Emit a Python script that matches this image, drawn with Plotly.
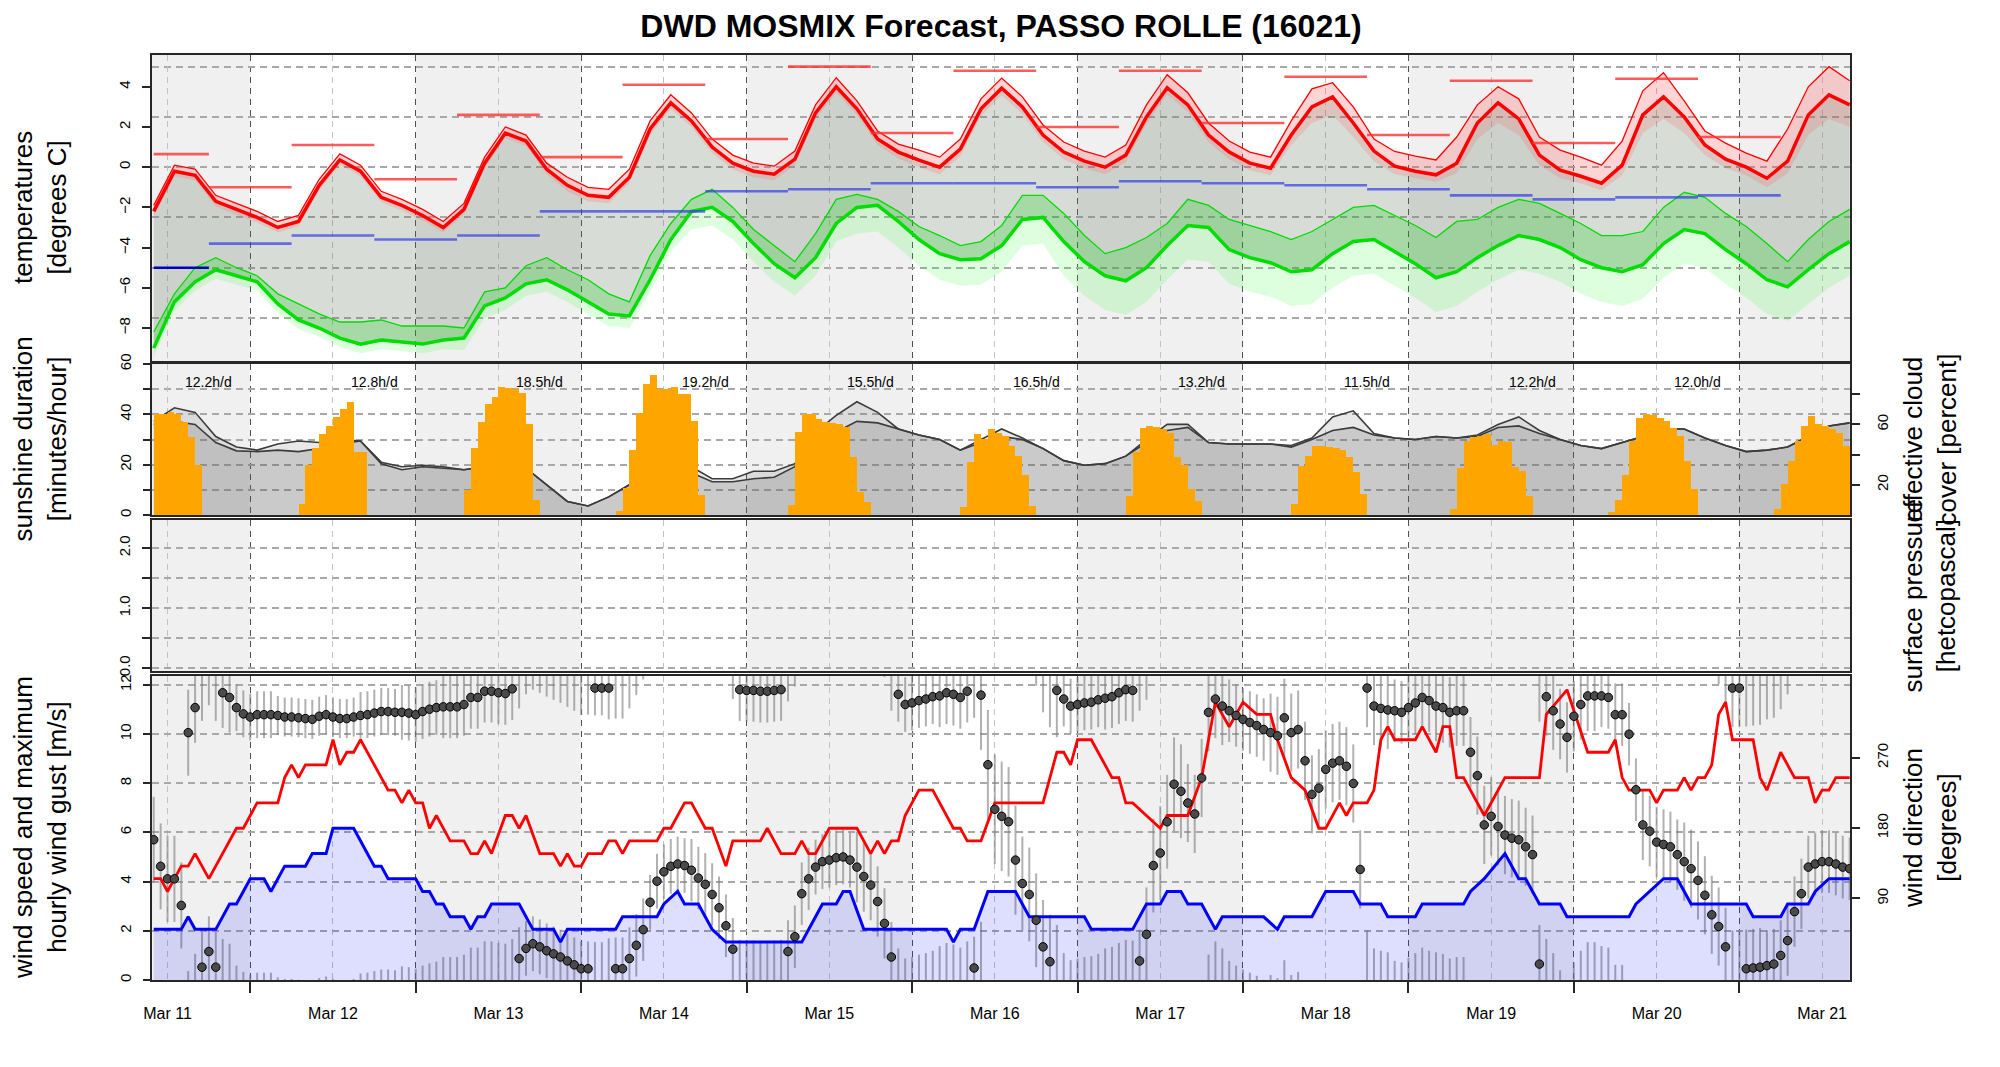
import plotly.graph_objects as go
from datetime import datetime, timedelta

# ------------------------------------------------------------------ data
START = datetime(2024, 3, 11, 10, 0)          # hour 0 of the forecast
X_FIRST_H, X_LAST_H = -0.25, 246.05           # visible time window (hours from START)

TITLE = "DWD MOSMIX Forecast, PASSO ROLLE (16021)"
day_labels = ["Mar 11", "Mar 12", "Mar 13", "Mar 14", "Mar 15", "Mar 16",
              "Mar 17", "Mar 18", "Mar 19", "Mar 20", "Mar 21"]
shaded_day_index = [0, 2, 4, 6, 8, 10]
sun_day_text = ["12.2h/d", "12.8h/d", "18.5h/d", "19.2h/d", "15.5h/d",
                "16.5h/d", "13.2h/d", "11.5h/d", "12.2h/d", "12.0h/d"]

# temperatures, one value every 3 hours
temp_step_h = 3
temp_2m = [-2.2, -0.2, -0.4, -1.7, -2.1, -2.5, -3.0, -2.7, -0.9, 0.36,
           -0.2, -1.5, -1.9, -2.4, -3.0, -2.1, 0.2, 1.7, 1.3, -0.1,
           -0.9, -1.4, -1.5, -0.5, 1.9, 3.2, 2.3, 1.0, 0.2, -0.2,
           -0.35, 0.4, 2.7, 4.0, 2.9, 1.4, 0.75, 0.35, 0.0, 0.9,
           2.9, 3.93, 3.0, 1.6, 0.75, 0.3, 0.0, 0.6, 2.5, 3.95,
           3.1, 1.6, 0.75, 0.2, -0.05, 1.6, 3.0, 3.5, 2.2, 0.8,
           0.05, -0.2, -0.38, 0.2, 2.2, 3.2, 2.4, 0.6, -0.15, -0.45,
           -0.8, 0.1, 2.6, 3.5, 2.5, 1.1, 0.4, 0.0, -0.55, 0.3,
           2.6, 3.6, 3.1]
temp_2m_upper = [-1.9, 0.1, -0.1, -1.4, -1.8, -2.2, -2.7, -2.4, -0.6, 0.66,
                 0.1, -1.2, -1.6, -2.1, -2.7, -1.8, 0.5, 2.0, 1.6, 0.2,
                 -0.5, -1.0, -1.1, -0.1, 2.3, 3.6, 2.7, 1.4, 0.6, 0.2,
                 0.05, 0.8, 3.1, 4.45, 3.3, 1.8, 1.15, 0.85, 0.5, 1.4,
                 3.4, 4.43, 3.5, 2.1, 1.25, 0.8, 0.5, 1.1, 3.1, 4.6,
                 3.7, 2.2, 1.3, 0.75, 0.5, 2.3, 3.9, 4.2, 3.0, 1.4,
                 0.78, 0.55, 0.36, 1.5, 3.1, 4.0, 3.4, 1.5, 0.85, 0.5,
                 0.1, 1.3, 3.8, 4.7, 3.3, 1.8, 1.2, 0.7, 0.3, 1.9,
                 4.0, 5.0, 4.3]
temp_2m_lower = [-2.45, -0.45, -0.65, -1.95, -2.35, -2.75, -3.25, -2.95, -1.15, 0.11,
                 -0.45, -1.75, -2.15, -2.65, -3.25, -2.35, -0.05, 1.45, 1.05, -0.35,
                 -1.2, -1.7, -1.8, -0.8, 1.6, 2.9, 2.0, 0.7, -0.1, -0.5,
                 -0.65, 0.1, 2.4, 3.7, 2.6, 1.1, 0.45, 0.0, -0.35, 0.55,
                 2.55, 3.58, 2.65, 1.25, 0.4, -0.05, -0.35, 0.25, 2.15, 3.6,
                 2.75, 1.25, 0.4, -0.15, -0.4, 1.1, 2.2, 2.6, 1.5, 0.3,
                 -0.35, -0.55, -0.73, -0.3, 1.4, 2.2, 1.6, 0.1, -0.55, -0.8,
                 -1.15, -0.4, 1.7, 2.4, 1.7, 0.6, -0.05, -0.4, -1.0, -0.3,
                 1.6, 2.4, 2.0]
dewpoint = [-9.0, -6.7, -5.7, -5.1, -5.4, -5.7, -6.8, -7.6, -8.0, -8.5,
            -8.8, -8.6, -8.7, -8.8, -8.6, -8.5, -6.9, -6.5, -5.8, -5.6,
            -6.1, -6.7, -7.3, -7.4, -5.6, -3.6, -2.2, -2.0, -2.7, -3.8,
            -4.8, -5.5, -4.5, -2.8, -2.0, -1.9, -2.7, -3.6, -4.3, -4.6,
            -4.55, -3.9, -2.6, -2.5, -3.7, -4.7, -5.4, -5.65, -5.0, -3.9,
            -2.9, -3.0, -4.1, -4.5, -4.75, -5.2, -5.1, -4.3, -3.7, -3.6,
            -4.2, -4.8, -5.5, -5.2, -4.5, -3.9, -3.4, -3.6, -4.0, -4.6,
            -5.0, -5.2, -4.85, -3.8, -3.1, -3.3, -4.1, -4.8, -5.6, -5.95,
            -5.1, -4.3, -3.7]
dewpoint_upper = [-8.2, -6.3, -5.0, -4.5, -5.0, -5.4, -6.3, -6.8, -7.3, -7.7,
                  -7.7, -7.6, -7.9, -7.9, -7.9, -8.0, -6.2, -6.0, -4.9, -4.5,
                  -5.1, -5.6, -6.3, -6.7, -4.4, -2.8, -1.6, -1.1, -2.0, -3.1,
                  -3.9, -4.7, -3.3, -1.6, -1.35, -1.6, -2.2, -2.95, -3.4, -3.9,
                  -3.7, -2.9, -1.4, -1.4, -2.3, -3.4, -4.3, -4.0, -3.5, -2.8,
                  -1.6, -1.9, -2.6, -2.9, -3.2, -3.6, -3.2, -2.6, -2.0, -1.9,
                  -2.4, -2.9, -3.5, -2.7, -2.6, -2.0, -1.6, -1.8, -2.3, -2.8,
                  -3.4, -3.4, -3.2, -2.0, -1.25, -1.5, -2.3, -2.95, -3.8, -4.7,
                  -3.6, -2.7, -2.1]
dewpoint_lower = [-9.45, -7.15, -6.15, -5.55, -5.85, -6.15, -7.25, -8.05, -8.45, -8.95,
                  -9.25, -9.05, -9.15, -9.25, -9.05, -9.1, -7.5, -7.1, -6.4, -6.2,
                  -6.7, -7.3, -7.9, -8.0, -6.2, -4.2, -3.1, -2.9, -3.6, -4.7,
                  -5.7, -6.4, -5.4, -3.7, -3.3, -3.2, -4.0, -4.9, -5.6, -5.9,
                  -5.85, -5.2, -3.9, -3.8, -5.4, -6.4, -7.1, -7.35, -6.7, -5.6,
                  -4.6, -4.7, -5.8, -6.2, -6.45, -6.9, -6.8, -6.0, -5.4, -5.3,
                  -5.9, -6.5, -7.2, -6.9, -6.2, -5.6, -5.1, -5.3, -5.7, -6.3,
                  -6.7, -6.9, -6.55, -5.5, -4.8, -5.0, -5.8, -6.5, -7.3, -7.65,
                  -6.8, -6.0, -5.4]

# 12-hourly extremes (period boundaries in hours from START)
extreme_bounds_h = [0, 8, 20, 32, 44, 56, 68, 80, 92, 104, 116, 128, 140,
                    152, 164, 176, 188, 200, 212, 224, 236]
tmax_12h = [0.65, -1.0, 1.1, -0.6, 2.6, 0.5, 4.1, 1.4, 5.0, 1.7,
            4.8, 2.0, 4.8, 2.2, 4.5, 1.6, 4.3, 1.2, 4.4, 1.5]
tmin_12h = [-5.0, -3.8, -3.4, -3.6, -3.4, -2.2, -2.2, -1.2, -1.1, -0.8,
            -0.8, -1.0, -0.7, -0.8, -0.9, -1.1, -1.4, -1.6, -1.5, -1.4]

# hourly sunshine duration (minutes per hour), one block per day
sun_start_h = [0, 21, 45, 67, 92, 117, 141, 165, 188, 211, 235]
sun_minutes = [
    [40, 40, 41, 40, 37, 31, 20],
    [4.5, 20, 26.5, 32, 35.5, 39, 42, 45, 25, 25],
    [10, 26.5, 37, 44, 47, 51, 50.5, 50, 48.5, 36, 6],
    [1.6, 10.6, 25.7, 40.6, 52, 55.6, 50, 50, 51, 48, 48, 37.4, 8],
    [4, 33, 40, 40, 38, 37, 36.5, 36, 35, 23, 9, 5],
    [3, 21, 32, 30, 34, 32.5, 31.5, 27.5, 23.5, 16, 3.6],
    [7.5, 25, 34.5, 35.3, 35, 34, 32.7, 23, 20, 10.3, 5.6],
    [4.3, 19.5, 23.4, 27.4, 27.4, 27, 26.5, 26, 23, 17, 8.2],
    [2.3, 18.8, 29.4, 31, 31.4, 32, 28, 29.4, 29, 19, 17.5, 7.5],
    [1, 6, 16, 29.4, 38.7, 40, 39.7, 38.7, 37.3, 34.7, 31.4, 21.5, 10.2],
    [2.3, 12.2, 21.5, 29.4, 35.4, 39.3, 36, 35.4, 34, 32.7, 27.4],
]

# cloud cover (percent), every 3 hours
cloud_step_h = 3
cloud_upper = [62, 71, 68, 52, 45, 43, 47, 49, 48, 50,
               49, 35, 32, 33, 32, 30, 32, 33, 31, 20,
               9, 6, 12, 20, 28, 33, 32, 24, 24, 29,
               29, 34, 55, 66, 75, 68, 57, 53, 50, 43,
               50, 57, 51, 44, 36, 33, 34, 39, 50, 60,
               60, 48, 47, 47, 47, 46, 51, 65, 69, 54,
               51, 50, 52, 51, 53, 60, 65, 56, 50, 46,
               44, 48, 52, 57, 57, 51, 46, 42, 43, 45,
               52, 59, 61]
cloud_lower = [60, 62, 60, 48, 42.5, 42, 43, 42, 44, 47,
               49, 34, 30, 32, 31, 30, 32, 33, 31, 20,
               9, 6, 12, 20, 28, 32, 28, 22, 22, 24,
               25, 32, 45, 55, 62, 61, 57, 53, 50, 43,
               48, 52, 50, 44, 36, 33, 34, 39, 48, 56,
               58, 48, 47, 47, 47, 45, 50, 56, 58, 53,
               51, 50, 52, 51, 52, 58, 59, 54, 50, 46,
               44, 48, 52, 57, 57, 51, 46, 42, 43, 45,
               52, 59, 61]

# wind speed / gust (m/s) as polyline vertices (hour, value)
wind_speed_h = [0, 4, 5, 6, 9, 11, 12, 14, 16, 17, 19, 22, 23, 25, 26, 29, 32, 33, 34, 38,
                39, 40, 41, 42, 43, 45, 46, 47, 48, 49, 53, 55, 58, 59, 60, 67, 68, 73, 74, 76,
                77, 79, 80, 81, 83, 94, 96, 97, 99, 100, 101, 103, 115, 116, 117, 119, 121, 125, 127, 135,
                136, 142, 144, 146, 147, 149, 150, 152, 154, 155, 161, 163, 164, 168, 169, 170, 174, 175, 178, 179,
                183, 184, 190, 191, 193, 196, 198, 199, 201, 204, 205, 214, 215, 217, 219, 221, 223, 231, 232, 236,
                237, 240, 241, 243, 246]
wind_speed = [2.06, 2.06, 2.57, 2.06, 2.06, 3.09, 3.09, 4.12, 4.12, 3.6,
              4.63, 4.63, 5.14, 5.14, 6.17, 6.17, 4.63, 4.63, 4.12, 4.12,
              3.6, 3.6, 3.09, 3.09, 2.57, 2.57, 2.06, 2.57, 2.57, 3.09,
              3.09, 2.06, 2.06, 1.54, 2.06, 2.06, 2.57, 2.57, 3.09, 3.6,
              3.09, 3.09, 2.57, 2.06, 1.54, 1.54, 2.57, 3.09, 3.09, 3.6,
              3.6, 2.06, 2.06, 1.54, 2.06, 2.06, 3.6, 3.6, 2.57, 2.57,
              2.06, 2.06, 3.09, 3.09, 3.6, 3.6, 3.09, 3.09, 2.06, 2.57,
              2.57, 2.06, 2.57, 2.57, 3.09, 3.6, 3.6, 3.09, 3.09, 2.57,
              2.57, 3.09, 3.09, 3.6, 4.12, 5.14, 4.12, 4.12, 3.09, 3.09,
              2.57, 2.57, 3.09, 3.6, 4.12, 4.12, 3.09, 3.09, 2.57, 2.57,
              3.09, 3.09, 3.6, 4.12, 4.12]
gust_h = [0, 1, 2, 3, 4, 5, 6, 8, 12, 13, 15, 18, 19, 20, 21, 22, 25, 26, 27, 28,
          29, 30, 32, 34, 35, 36, 37, 38, 39, 40, 41, 42, 43, 45, 46, 47, 48, 49, 51, 52,
          53, 54, 56, 58, 59, 60, 61, 62, 63, 65, 66, 67, 68, 69, 73, 74, 75, 77, 78, 80,
          81, 83, 84, 88, 89, 90, 91, 93, 94, 95, 96, 98, 102, 104, 105, 106, 107, 108, 109, 111,
          113, 116, 117, 118, 120, 122, 129, 131, 132, 133, 134, 136, 139, 140, 141, 142, 144, 146, 147, 150,
          152, 154, 156, 158, 160, 162, 163, 165, 167, 169, 170, 172, 173, 174, 176, 177, 178, 179, 180, 183,
          184, 186, 187, 188, 189, 190, 193, 196, 201, 202, 205, 208, 211, 212, 213, 214, 217, 218, 219, 221,
          222, 223, 224, 225, 226, 227, 228, 229, 232, 233, 234, 236, 238, 240, 241, 242, 243, 244, 246]
gust = [4.12, 4.12, 3.6, 4.12, 4.63, 4.63, 5.14, 4.12, 6.17, 6.17,
        7.2, 7.2, 8.23, 8.75, 8.23, 8.75, 8.75, 9.77, 8.75, 9.26,
        9.26, 9.77, 8.75, 7.72, 7.72, 7.2, 7.72, 7.2, 7.2, 6.17,
        6.69, 6.17, 5.66, 5.66, 5.14, 5.14, 5.66, 5.14, 6.69, 6.69,
        6.17, 6.69, 5.14, 5.14, 4.63, 5.14, 4.63, 4.63, 5.14, 5.14,
        5.66, 5.66, 5.14, 5.66, 5.66, 6.17, 6.17, 7.2, 7.2, 6.17,
        6.17, 4.63, 5.66, 5.66, 6.17, 5.66, 5.14, 5.14, 5.66, 5.14,
        5.14, 6.17, 6.17, 5.14, 5.66, 5.14, 5.66, 5.66, 6.69, 7.72,
        7.72, 6.17, 6.17, 5.66, 5.66, 7.2, 7.2, 9.26, 9.26, 8.75,
        9.77, 9.77, 8.23, 8.23, 7.2, 7.2, 6.69, 6.17, 6.69, 6.69,
        8.23, 11.3, 10.3, 11.3, 10.8, 10.8, 9.77, 8.23, 7.72, 6.17,
        6.17, 7.2, 6.69, 7.2, 7.2, 7.72, 9.77, 10.3, 9.77, 9.77,
        10.3, 9.26, 10.3, 10.3, 8.23, 8.23, 6.69, 8.23, 8.23, 10.8,
        11.8, 9.26, 9.26, 9.77, 8.23, 7.72, 7.72, 7.2, 7.72, 7.72,
        8.23, 7.72, 8.23, 8.23, 8.75, 10.8, 11.3, 9.77, 9.77, 8.23,
        7.72, 9.26, 8.23, 8.23, 7.2, 7.72, 7.72, 8.23, 8.23]

# hourly wind direction (degrees) and its spread (half width, one value per 6 h)
wind_dir = [165, 131, 115, 115, 81, 302, 334, 2, 22, 2,
            353, 347, 334, 326, 322, 325, 325, 325, 324, 322,
            322, 321, 320, 319, 323, 325, 322, 320, 320, 322,
            324, 325, 327, 329, 329, 328, 328, 327, 325, 329,
            332, 334, 335, 335, 335, 338, 347, 347, 355, 355,
            353, 352, 358, 13, 26, 32, 28, 23, 19, 15,
            10, 5, 0, 0, 359, 359, 359, 0, 0, 13,
            30, 50, 85, 112, 124, 131, 134, 132, 126, 116,
            108, 95, 78, 55, 25, 357, 356, 356, 355, 355,
            356, 357, 22, 41, 96, 115, 130, 137, 139, 142,
            143, 139, 130, 118, 107, 86, 58, 15, 351, 338,
            340, 343, 345, 348, 349, 353, 351, 347, 355, 1,
            350, 261, 204, 195, 188, 139, 109, 95, 62, 28,
            9, 356, 345, 336, 338, 340, 341, 344, 346, 348,
            353, 357, 356, 10, 44, 132, 148, 188, 236, 227,
            212, 198, 244, 328, 345, 336, 330, 324, 319, 315,
            311, 306, 302, 298, 321, 302, 306, 266, 223, 231,
            255, 263, 266, 259, 237, 127, 359, 336, 333, 331,
            330, 328, 334, 340, 347, 343, 336, 334, 328, 330,
            330, 277, 247, 184, 195, 182, 171, 167, 165, 156,
            146, 6, 348, 330, 313, 296, 323, 338, 349, 349,
            349, 347, 325, 325, 300, 229, 184, 176, 162, 159,
            156, 146, 137, 128, 113, 94, 69, 54, 28, 359,
            359, 0, 1, 2, 4, 6, 17, 36, 73, 96,
            130, 134, 137, 137, 134, 130, 128]
dir_spread_block_h = 6
wind_dir_spread = [55, 45, 30, 25, 25, 30, 35, 40, 40, 35,
                   35, 40, 35, 40, 40, 40, 35, 45, 35, 40,
                   70, 60, 35, 40, 60, 50, 40, 50, 50, 50,
                   40, 45, 50, 50, 45, 40, 45, 50, 50, 45,
                   40, 40]

# axis ticks
temp_ticks = [-8, -6, -4, -2, 0, 2, 4]
temp_grid = [-7.5, -5, -2.5, 0, 2.5, 5]
sun_ticks = [0, 20, 40, 60]
sun_grid = [10, 20, 30, 40, 50]
cloud_ticks = [20, 40, 60, 80]
cloud_ticktext = ["20", "", "60", ""]
pres_ticks = [0, 0.5, 1.0, 1.5, 2.0]
pres_ticktext = ["0.0", "", "1.0", "", "2.0"]
wind_ticks = [0, 2, 4, 6, 8, 10, 12]
dir_ticks = [90, 180, 270]

# ------------------------------------------------------------------ helpers
FONT = "Liberation Sans, Arial, Helvetica, sans-serif"
NARROW = "Liberation Sans Narrow, Liberation Sans, Arial, sans-serif"


def ts(h):
    return (START + timedelta(hours=h)).strftime("%Y-%m-%d %H:%M:%S")


def line(x, y, xa, ya, color="rgba(0,0,0,0)", width=0, fill=None, fillcolor=None):
    return go.Scatter(x=x, y=y, xaxis=xa, yaxis=ya, mode="lines",
                      line=dict(color=color, width=width), fill=fill,
                      fillcolor=fillcolor, showlegend=False, hoverinfo="skip")


DOM_T = [0.6692, 1.0]
DOM_S = [0.5027, 0.6659]
DOM_P = [0.3341, 0.4973]
DOM_W = [0.0, 0.3286]

fig = go.Figure()

# ------------------------------------------------------------------ panel 1: temperatures
tt = [ts(h) for h in range(0, temp_step_h * len(temp_2m), temp_step_h)]
fig.add_trace(line(tt, dewpoint, "x", "y"))
fig.add_trace(line(tt, temp_2m, "x", "y", fill="tonexty", fillcolor="rgba(95,115,95,0.25)"))
fig.add_trace(line(tt, dewpoint_lower, "x", "y"))
fig.add_trace(line(tt, dewpoint, "x", "y", fill="tonexty", fillcolor="rgba(60,255,60,0.17)"))
fig.add_trace(line(tt, dewpoint_upper, "x", "y", color="#00DD00", width=1.3,
                   fill="tonexty", fillcolor="rgba(0,210,0,0.22)"))
fig.add_trace(line(tt, temp_2m_lower, "x", "y"))
fig.add_trace(line(tt, temp_2m, "x", "y", fill="tonexty", fillcolor="rgba(255,60,60,0.16)"))
fig.add_trace(line(tt, temp_2m_upper, "x", "y", color="#FF0000", width=1.3,
                   fill="tonexty", fillcolor="rgba(255,60,60,0.22)"))
fig.add_trace(line(tt, dewpoint, "x", "y", color="#00DD00", width=3.5))
fig.add_trace(line(tt, temp_2m, "x", "y", color="#FF0000", width=3.5))


def segments(values, first=0):
    xs, ys = [], []
    for i in range(first, len(values)):
        xs += [ts(extreme_bounds_h[i]), ts(extreme_bounds_h[i + 1]), None]
        ys += [values[i], values[i], None]
    return xs, ys


sx, sy = segments(tmax_12h)
fig.add_trace(line(sx, sy, "x", "y", color="rgba(255,50,50,0.8)", width=2.6))
sx, sy = segments(tmin_12h, first=1)
fig.add_trace(line(sx, sy, "x", "y", color="rgba(50,60,230,0.7)", width=2.6))
fig.add_trace(line([ts(extreme_bounds_h[0]), ts(extreme_bounds_h[1])],
                   [tmin_12h[0], tmin_12h[0]], "x", "y", color="#0000C0", width=2.6))

# ------------------------------------------------------------------ panel 2: sunshine + cloud
ct = [ts(h) for h in range(0, cloud_step_h * len(cloud_lower), cloud_step_h)]
fig.add_trace(line(ct, cloud_lower, "x2", "y2", color="#3C3C3C", width=1.6,
                   fill="tozeroy", fillcolor="rgba(90,90,90,0.32)"))
fig.add_trace(line(ct, cloud_upper, "x2", "y2", color="#3C3C3C", width=1.6,
                   fill="tonexty", fillcolor="rgba(90,90,90,0.14)"))
bx, by = [], []
for start, vals in zip(sun_start_h, sun_minutes):
    for i, v in enumerate(vals):
        bx.append(ts(start + i + 0.5))
        by.append(v)
fig.add_trace(go.Bar(x=bx, y=by, xaxis="x2", yaxis="y3", width=3600 * 1000,
                     marker=dict(color="#FFA500", line=dict(width=0)),
                     showlegend=False, hoverinfo="skip"))

# ------------------------------------------------------------------ panel 3: pressure (no data)
fig.add_trace(go.Scatter(x=[], y=[], xaxis="x3", yaxis="y4", showlegend=False))

# ------------------------------------------------------------------ panel 4: wind
spx, spy = [], []
for h, d in enumerate(wind_dir):
    s = wind_dir_spread[h // dir_spread_block_h]
    for shift in (0, -360, 360):
        lo, hi = d - s + shift, d + s + shift
        if hi < -20 or lo > 380:
            continue
        spx += [ts(h), ts(h), None]
        spy += [lo, hi, None]
fig.add_trace(line(spx, spy, "x4", "y5", color="rgba(125,125,125,0.6)", width=2))
fig.add_trace(line([ts(h) for h in wind_speed_h], wind_speed, "x4", "y6", color="#0000FF",
                   width=3, fill="tozeroy", fillcolor="rgba(0,0,255,0.13)"))
fig.add_trace(line([ts(h) for h in gust_h], gust, "x4", "y6", color="#FF0000", width=2.8))
fig.add_trace(go.Scatter(x=[ts(h) for h in range(len(wind_dir))], y=wind_dir,
                         xaxis="x4", yaxis="y7", mode="markers",
                         marker=dict(size=8.5, color="#4A4A4A", line=dict(color="black", width=1)),
                         showlegend=False, hoverinfo="skip"))

# ------------------------------------------------------------------ day shading
shapes = []
panels = [("x", "y domain"), ("x2", "y2 domain"), ("x3", "y4 domain"), ("x4", "y5 domain")]
for d in shaded_day_index:
    h0 = max(24 * d - 10, X_FIRST_H)
    h1 = min(24 * d + 14, X_LAST_H)
    for xr, yr in panels:
        shapes.append(dict(type="rect", xref=xr, yref=yr, x0=ts(h0), x1=ts(h1), y0=0, y1=1,
                           fillcolor="#F0F0F0", line=dict(width=0), layer="below"))

# ------------------------------------------------------------------ axes
noon_vals = [ts(2 + 24 * i) for i in range(len(day_labels))]
midnight_vals = [ts(14 + 24 * i) for i in range(len(day_labels) - 1)]
FRAME = dict(showline=True, linecolor="#262626", linewidth=2, mirror=True, zeroline=False)
HGRID = dict(showgrid=True, gridcolor="#A8A8A8", gridwidth=1.6, griddash="7px,5px")


def x_axis(anchor, bottom):
    return dict(type="date", domain=[0, 1], anchor=anchor,
                range=[ts(X_FIRST_H), ts(X_LAST_H)],
                tickmode="array", tickvals=noon_vals, ticktext=day_labels,
                showticklabels=bottom, ticks="", ticklabelstandoff=18 if bottom else 0,
                tickfont=dict(family=FONT, size=16, color="black"),
                showgrid=True, gridcolor="#C2C2C2", gridwidth=1, griddash="6px,5px",
                minor=dict(tickmode="array", tickvals=midnight_vals, showgrid=True,
                           gridcolor="#505050", gridwidth=1.4, griddash="6px,5px",
                           ticks="outside" if bottom else "", ticklen=11, tickwidth=1.6,
                           tickcolor="#262626"),
                **FRAME)


def y_axis(**kw):
    d = dict(ticks="outside", ticklen=8, tickwidth=1.5, tickcolor="#262626", tickangle=-90,
             tickfont=dict(family=FONT, size=15, color="black"), showgrid=False,
             ticklabelstandoff=6, tickmode="array", **FRAME)
    d.update(kw)
    return d


fig.update_layout(
    width=2000, height=1067,
    margin=dict(l=152, r=150, t=55, b=87),
    paper_bgcolor="white", plot_bgcolor="white",
    bargap=0,
    title=dict(text="<b>" + TITLE + "</b>", x=0.5, xref="paper", y=1 - 26 / 1067,
               yref="container", yanchor="middle", xanchor="center",
               font=dict(family=FONT, size=32, color="black")),
    xaxis=x_axis("y", False),
    xaxis2=x_axis("y2", False),
    xaxis3=x_axis("y4", False),
    xaxis4=x_axis("y5", True),
    yaxis=y_axis(domain=DOM_T, anchor="x", range=[-9.64, 5.58], tickvals=temp_ticks,
                 minor=dict(tickmode="array", tickvals=temp_grid, ticks="", **HGRID)),
    yaxis2=y_axis(domain=DOM_S, anchor="x2", side="right", range=[0, 100],
                  tickvals=cloud_ticks, ticktext=cloud_ticktext, ticklabelstandoff=10),
    yaxis3=y_axis(overlaying="y2", anchor="x2", side="left", range=[0, 60], tickvals=sun_ticks,
                  showline=False,
                  minor=dict(tickmode="array", tickvals=sun_grid, ticks="outside", ticklen=8,
                             tickwidth=1.5, tickcolor="#262626", **HGRID)),
    yaxis4=y_axis(domain=DOM_P, anchor="x3", range=[-0.05, 2.47], tickvals=pres_ticks,
                  ticktext=pres_ticktext, **HGRID),
    yaxis5=y_axis(domain=DOM_W, anchor="x4", side="right", range=[-14.4, 374.4],
                  tickvals=dir_ticks, ticklabelstandoff=10),
    yaxis6=y_axis(overlaying="y5", anchor="x4", side="left", range=[0, 12.36],
                  tickvals=wind_ticks, showline=False, **HGRID),
    yaxis7=dict(overlaying="y5", anchor="x4", range=[-14.4, 374.4], visible=False),
    shapes=shapes,
)


def side_title(text, dom, left):
    return dict(text=text, xref="paper", yref="paper", x=0 if left else 1,
                y=(dom[0] + dom[1]) / 2, xshift=-112 if left else 80, showarrow=False,
                textangle=-90, xanchor="center", yanchor="middle",
                font=dict(family=FONT, size=26, color="black"))


annotations = [
    side_title("temperatures<br>[degrees C]", DOM_T, True),
    side_title("sunshine duration<br>[minutes/hour]", DOM_S, True),
    side_title("wind speed and maximum<br>hourly wind gust [m/s]", DOM_W, True),
    side_title("effective cloud<br>cover [percent]", DOM_S, False),
    side_title("surface pressure<br>[hetcopascal]", DOM_P, False),
    side_title("wind direction<br>[degrees]", DOM_W, False),
]
for i, txt in enumerate(sun_day_text):
    annotations.append(dict(text=txt, x=ts(8 + 24 * i), y=53, xref="x2", yref="y3",
                            showarrow=False, font=dict(family=NARROW, size=14, color="black")))
fig.update_layout(annotations=annotations)

fig.write_html("out.html", config={"displayModeBar": False},
               post_script="document.body.style.margin='0';document.body.style.overflow='hidden';")
